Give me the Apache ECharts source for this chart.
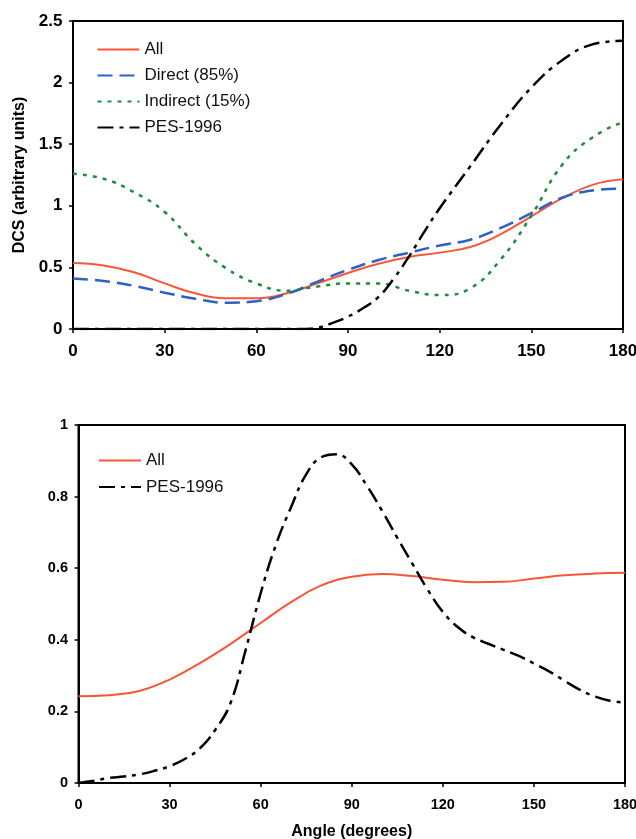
<!DOCTYPE html>
<html>
<head>
<meta charset="utf-8">
<script src="https://cdn.jsdelivr.net/npm/echarts@6/dist/echarts.min.js"></script>
<style>
  html, body { margin: 0; padding: 0; background: #ffffff; }
  #chart { width: 636px; height: 839px; }
</style>
</head>
<body>
<div id="chart"></div>
<script>
// Upper panel: differential cross sections vs scattering angle
const topAngles = [0, 10, 20, 30, 40, 50, 60, 70, 80, 90, 100, 110, 120, 130, 140, 150, 160, 170, 180];
const topAll      = [0.535, 0.515, 0.46, 0.37, 0.29, 0.25, 0.25, 0.29, 0.37, 0.455, 0.53, 0.585, 0.62, 0.665, 0.77, 0.915, 1.06, 1.17, 1.215];
const topDirect   = [0.41, 0.39, 0.35, 0.295, 0.246, 0.213, 0.226, 0.285, 0.385, 0.48, 0.56, 0.62, 0.677, 0.725, 0.82, 0.94, 1.065, 1.125, 1.14];
const topIndirect = [1.26, 1.22, 1.11, 0.95, 0.69, 0.495, 0.37, 0.31, 0.345, 0.37, 0.37, 0.31, 0.275, 0.33, 0.565, 0.92, 1.33, 1.555, 1.68];
const topPesAngles = [0, 20, 40, 60, 75, 80, 85, 90, 95, 100, 105, 110, 115, 120, 130, 140, 150, 160, 170, 180];
const topPes       = [0, 0, 0, 0, 0, 0.01, 0.05, 0.10, 0.17, 0.26, 0.41, 0.59, 0.79, 0.98, 1.32, 1.66, 1.96, 2.18, 2.31, 2.34];

// Lower panel
const botAngles = [0, 10, 20, 30, 40, 50, 60, 70, 80, 90, 100, 110, 120, 130, 140, 150, 160, 170, 180];
const botAll    = [0.242, 0.245, 0.257, 0.289, 0.335, 0.388, 0.447, 0.505, 0.552, 0.576, 0.584, 0.578, 0.568, 0.561, 0.562, 0.571, 0.58, 0.585, 0.587];
const botPesAngles = [0, 5, 10, 15, 20, 25, 30, 35, 40, 45, 50, 55, 60, 65, 70, 75, 80, 85, 90, 95, 100, 105, 110, 115, 120, 125, 130, 135, 140, 145, 150, 155, 160, 165, 170, 175, 180];
const botPes       = [0, 0.006, 0.014, 0.018, 0.024, 0.034, 0.047, 0.067, 0.097, 0.148, 0.222, 0.37, 0.53, 0.665, 0.77, 0.862, 0.91, 0.918, 0.89, 0.83, 0.76, 0.685, 0.612, 0.54, 0.478, 0.435, 0.407, 0.389, 0.372, 0.355, 0.334, 0.312, 0.286, 0.261, 0.242, 0.23, 0.224];

const xTicks = [0, 30, 60, 90, 120, 150, 180];

const pairs = (xs, ys) => xs.map((x, i) => [x, ys[i]]);

const FONT = '"Liberation Sans", Arial, sans-serif';
const RED = '#fa5538', BLUE = '#2c62c6', GREEN = '#1d8c3d', BLACK = '#000000';
const PES_DASH = [16, 6, 4, 6];

function xAxisFor(gridIndex, fontSize, margin, extra) {
  return Object.assign({
    type: 'value', gridIndex, min: xTicks[0], max: xTicks[xTicks.length - 1], interval: 30,
    axisLine: { show: true, lineStyle: { color: '#000', width: 2 } },
    axisTick: { show: true, inside: false, length: 4, lineStyle: { color: '#000', width: 1.5 } },
    axisLabel: { fontFamily: FONT, fontWeight: 'bold', fontSize, color: '#000', margin },
    splitLine: { show: false }
  }, extra || {});
}
function yAxisFor(gridIndex, max, interval, fontSize, extra) {
  return Object.assign({
    type: 'value', gridIndex, min: 0, max, interval,
    axisLine: { show: true, lineStyle: { color: '#000', width: 2 } },
    axisTick: { show: true, inside: false, length: 4, lineStyle: { color: '#000', width: 1.5 } },
    axisLabel: { fontFamily: FONT, fontWeight: 'bold', fontSize, color: '#000', margin: 10.5 },
    splitLine: { show: false }
  }, extra || {});
}
function line(name, xi, data, color, width, type) {
  return {
    name, type: 'line', xAxisIndex: xi, yAxisIndex: xi, data,
    smooth: 0.45, symbol: 'none', silent: true,
    lineStyle: { color, width, type },
    itemStyle: { color }
  };
}

// legend shows only the line sample, no marker
const legendBase = {
  orient: 'vertical', itemWidth: 42, itemHeight: 12, itemGap: 9,
  selectedMode: false,
  itemStyle: { color: 'rgba(0,0,0,0)', borderColor: 'rgba(0,0,0,0)', borderWidth: 0, opacity: 0 },
  textStyle: { fontFamily: FONT, fontSize: 17, color: '#111' }
};

const chart = echarts.init(document.getElementById('chart'), null, { renderer: 'canvas' });
chart.setOption({
  backgroundColor: '#ffffff',
  animation: false,
  grid: [
    { left: 73, top: 21, width: 550, height: 308, outerBoundsMode: 'none', containLabel: false,
      show: true, borderColor: '#000', borderWidth: 2, backgroundColor: '#fff' },
    { left: 78.5, top: 425, width: 546.5, height: 358, outerBoundsMode: 'none', containLabel: false,
      show: true, borderColor: '#000', borderWidth: 2, backgroundColor: '#fff' }
  ],
  xAxis: [
    xAxisFor(0, 17, 14),
    xAxisFor(1, 14.5, 14, {
      name: 'Angle (degrees)', nameLocation: 'middle', nameGap: 41,
      nameTextStyle: { fontFamily: FONT, fontWeight: 'bold', fontSize: 16, color: '#000' }
    })
  ],
  yAxis: [
    yAxisFor(0, 2.5, 0.5, 17, {
      name: 'DCS (arbitrary units)', nameLocation: 'middle', nameGap: 44,
      nameTextStyle: { fontFamily: FONT, fontWeight: 'bold', fontSize: 16, color: '#000' }
    }),
    yAxisFor(1, 1, 0.2, 14.5)
  ],
  legend: [
    Object.assign({}, legendBase, {
      data: ['All', 'Direct (85%)', 'Indirect (15%)', 'PES-1996'],
      left: 91.5, top: 36
    }),
    Object.assign({}, legendBase, {
      data: ['All', 'PES-1996'],
      left: 93, top: 447, itemGap: 9.5
    })
  ],
  series: [
    line('All', 0, pairs(topAngles, topAll), RED, 2),
    line('Direct (85%)', 0, pairs(topAngles, topDirect), BLUE, 2.5, [15, 7]),
    line('Indirect (15%)', 0, pairs(topAngles, topIndirect), GREEN, 2.5, [4, 6]),
    line('PES-1996', 0, pairs(topPesAngles, topPes), BLACK, 2.5, PES_DASH),
    line('All', 1, pairs(botAngles, botAll), RED, 2),
    line('PES-1996', 1, pairs(botPesAngles, botPes), BLACK, 2.5, PES_DASH)
  ]
});
</script>
</body>
</html>
